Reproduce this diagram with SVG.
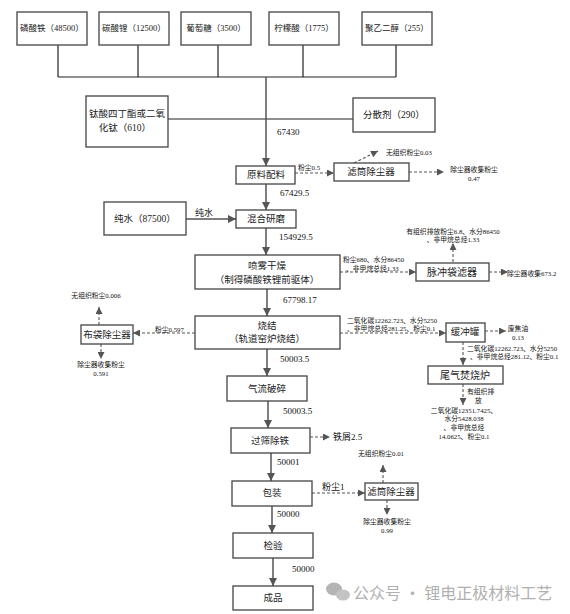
<svg xmlns="http://www.w3.org/2000/svg" width="570" height="614" viewBox="0 0 570 614">
<style>
.box{fill:#fff;stroke:#444;stroke-width:1.3}
.t{font-family:"Liberation Serif","Noto Sans CJK SC",serif;fill:#222;text-anchor:middle;dominant-baseline:central}
.n{font-size:9.5px}
.tp{font-size:8.5px}
.s{font-size:6.8px;font-family:"Liberation Serif","Noto Sans CJK SC",serif;fill:#111;dominant-baseline:central}
.v{font-size:9px;font-family:"Liberation Serif","Noto Sans CJK SC",serif;fill:#111;dominant-baseline:central}
.ln{fill:none;stroke:#222;stroke-width:1.2}
.ar{fill:none;stroke:#555;stroke-width:1.5;marker-end:url(#ah)}
.da{fill:none;stroke:#555;stroke-width:1.1;stroke-dasharray:3 2;marker-end:url(#dh)}
.wm{font-family:"Noto Sans CJK SC",sans-serif;font-size:16px;fill:#b0b0b0;dominant-baseline:central}
</style>
<defs>
<marker id="ah" viewBox="0 0 10 10" refX="10" refY="5" markerWidth="8" markerHeight="9" markerUnits="userSpaceOnUse" orient="auto"><path d="M0,0 L10,5 L0,10 z" fill="#555"/></marker>
<marker id="dh" viewBox="0 0 10 10" refX="10" refY="5" markerWidth="8" markerHeight="7" markerUnits="userSpaceOnUse" orient="auto"><path d="M0,0 L10,5 L0,10 z" fill="#555"/></marker>
</defs>
<rect width="570" height="614" fill="#fff"/>

<g id="connectors">
<!-- top collector -->
<path class="ln" d="M58,45 V77 M138,45 V77 M218,45 V77 M303,45 V77 M396,45 V77 M58,77 H396"/>
<path class="ln" d="M168,119 H353"/>
<path class="ar" d="M266,77 V166"/>
<path class="ar" d="M266,184 V210"/>
<path class="ar" d="M186,219 H236"/>
<path class="ar" d="M266,228 V255"/>
<path class="ar" d="M267,289 V316"/>
<path class="ar" d="M267,349 V376"/>
<path class="ar" d="M268,401 V428"/>
<path class="ar" d="M271,453 V481"/>
<path class="ar" d="M272,506 V533"/>
<path class="ar" d="M273,558 V586"/>
<!-- dashed -->
<path class="da" d="M295,173 H334"/>
<path class="da" d="M354,163 L378,151"/>
<path class="da" d="M409,172 H444"/>
<path class="da" d="M340,272 H416"/>
<path class="da" d="M453,262 V243"/>
<path class="da" d="M489,272 H508"/>
<path class="da" d="M195,333 H133"/>
<path class="da" d="M99,325 V307"/>
<path class="da" d="M101,344 V359"/>
<path class="da" d="M340,333 H446"/>
<path class="da" d="M485,331 H506"/>
<path class="da" d="M463,342 V365"/>
<path class="da" d="M463,384 V405"/>
<path class="da" d="M310,437 H330"/>
<path class="da" d="M312,493 H365"/>
<path class="da" d="M383,483 V465"/>
<path class="da" d="M387,500 V515"/>
</g>

<g id="n-lfpfe"><rect class="box" x="17" y="12" width="70" height="33"/><text class="t tp" x="52" y="28">磷酸铁（48500）</text></g>
<g id="n-li2co3"><rect class="box" x="99" y="12" width="70" height="33"/><text class="t tp" x="134" y="28">碳酸锂（12500）</text></g>
<g id="n-glucose"><rect class="box" x="181" y="12" width="70" height="33"/><text class="t tp" x="216" y="28">葡萄糖（3500）</text></g>
<g id="n-citric"><rect class="box" x="269" y="12" width="70" height="33"/><text class="t tp" x="304" y="28">柠檬酸（1775）</text></g>
<g id="n-peg"><rect class="box" x="362" y="12" width="70" height="33"/><text class="t tp" x="397" y="28">聚乙二醇（255）</text></g>

<g id="n-ti"><rect class="box" x="86" y="96" width="82" height="51"/><text class="t n" x="127" y="114">钛酸四丁酯或二氧</text><text class="t n" x="125" y="128">化钛（610）</text></g>
<g id="n-disp"><rect class="box" x="353" y="98" width="82" height="34"/><text class="t n" x="394" y="115">分散剂（290）</text></g>
<text class="v" x="277" y="132">67430</text>

<g id="n-mix"><rect class="box" x="236" y="166" width="59" height="18"/><text class="t n" x="266" y="175">原料配料</text></g>
<text class="s" x="298" y="167">粉尘0.5</text>
<g id="n-filter1"><rect class="box" x="334" y="163" width="75" height="18"/><text class="t n" x="371" y="172">滤筒除尘器</text></g>
<text class="s" x="386" y="152">无组织粉尘0.03</text>
<text class="s" x="474" y="169" text-anchor="middle">除尘器收集粉尘</text>
<text class="s" x="474" y="178" text-anchor="middle">0.47</text>
<text class="v" x="280" y="193">67429.5</text>

<g id="n-water"><rect class="box" x="104" y="202" width="82" height="33"/><text class="t n" x="145" y="219">纯水（87500）</text></g>
<text class="v" x="195" y="213" font-size="10">纯水</text>
<g id="n-grind"><rect class="box" x="236" y="210" width="60" height="18"/><text class="t n" x="266" y="219">混合研磨</text></g>
<text class="v" x="279" y="237">154929.5</text>

<g id="n-spray"><rect class="box" x="195" y="255" width="145" height="34"/><text class="t n" x="267" y="266">喷雾干燥</text><text class="t n" x="267" y="280">（制得磷酸铁锂前驱体）</text></g>
<text class="s" x="343" y="259">粉尘680、水分86450</text>
<text class="s" x="346" y="268">、非甲烷总烃1.33</text>
<g id="n-pulse"><rect class="box" x="416" y="263" width="73" height="18"/><text class="t" x="452" y="272" font-size="10">脉冲袋滤器</text></g>
<text class="s" x="453" y="231" text-anchor="middle">有组织排放粉尘6.8、水分86450</text>
<text class="s" x="453" y="239" text-anchor="middle">、非甲烷总烃1.33</text>
<text class="s" x="507" y="273">除尘器收集673.2</text>
<text class="v" x="283" y="300">67798.17</text>

<g id="n-sinter"><rect class="box" x="195" y="316" width="145" height="33"/><text class="t n" x="267" y="326">烧结</text><text class="t n" x="267" y="339">（轨道窑炉烧结）</text></g>
<text class="s" x="155" y="329">粉尘0.597</text>
<g id="n-bag"><rect class="box" x="81" y="325" width="52" height="19"/><text class="t n" x="107" y="335">布袋除尘器</text></g>
<text class="s" x="96" y="295" text-anchor="middle">无组织粉尘0.006</text>
<text class="s" x="101" y="364" text-anchor="middle">除尘器收集粉尘</text>
<text class="s" x="101" y="373" text-anchor="middle">0.591</text>

<text class="s" x="347" y="320">二氧化碳12262.723、水分5250</text>
<text class="s" x="347" y="328">、非甲烷总烃281.25、粉尘0.1</text>
<g id="n-buffer"><rect class="box" x="446" y="323" width="39" height="19"/><text class="t n" x="465" y="332">缓冲罐</text></g>
<text class="s" x="518" y="328" text-anchor="middle">废焦油</text>
<text class="s" x="518" y="337" text-anchor="middle">0.13</text>
<text class="s" x="467" y="348">二氧化碳12262.723、水分5250</text>
<text class="s" x="470" y="356">、非甲烷总烃281.12、粉尘0.1</text>
<g id="n-burner"><rect class="box" x="428" y="366" width="75" height="18"/><text class="t" x="465" y="375" font-size="10">尾气焚烧炉</text></g>
<text class="s" x="467" y="391">有组织排</text>
<text class="s" x="475" y="400">放</text>
<text class="s" x="464" y="410" text-anchor="middle">二氧化碳12351.7425、</text>
<text class="s" x="464" y="418" text-anchor="middle">水分5428.038</text>
<text class="s" x="464" y="427" text-anchor="middle">、非甲烷总烃</text>
<text class="s" x="464" y="436" text-anchor="middle">14.0625、粉尘0.1</text>

<text class="v" x="280" y="359">50003.5</text>
<g id="n-jet"><rect class="box" x="227" y="376" width="80" height="25"/><text class="t n" x="267" y="389">气流破碎</text></g>
<text class="v" x="283" y="411">50003.5</text>
<g id="n-sieve"><rect class="box" x="231" y="428" width="79" height="25"/><text class="t n" x="270" y="441">过筛除铁</text></g>
<text class="v" x="333" y="437">铁屑2.5</text>
<text class="v" x="277" y="462">50001</text>

<g id="n-pack"><rect class="box" x="232" y="481" width="80" height="25"/><text class="t n" x="272" y="493">包装</text></g>
<text class="v" x="322" y="487">粉尘1</text>
<g id="n-filter2"><rect class="box" x="365" y="483" width="53" height="17"/><text class="t n" x="391" y="492">滤筒除尘器</text></g>
<text class="s" x="381" y="453" text-anchor="middle">无组织粉尘0.01</text>
<text class="s" x="387" y="521" text-anchor="middle">除尘器收集粉尘</text>
<text class="s" x="387" y="530" text-anchor="middle">0.99</text>
<text class="v" x="277" y="514">50000</text>

<g id="n-check"><rect class="box" x="233" y="533" width="80" height="25"/><text class="t n" x="273" y="546">检验</text></g>
<text class="v" x="292" y="569">50000</text>
<g id="n-product"><rect class="box" x="233" y="586" width="80" height="24"/><text class="t n" x="273" y="598">成品</text></g>

<g id="watermark">
<ellipse cx="334" cy="589" rx="8" ry="6.5" fill="#b5b5b5"/>
<ellipse cx="343" cy="595" rx="7" ry="5.5" fill="#c4c4c4"/>
<text class="wm" x="353" y="592">公众号 · 锂电正极材料工艺</text>
</g>
</svg>
